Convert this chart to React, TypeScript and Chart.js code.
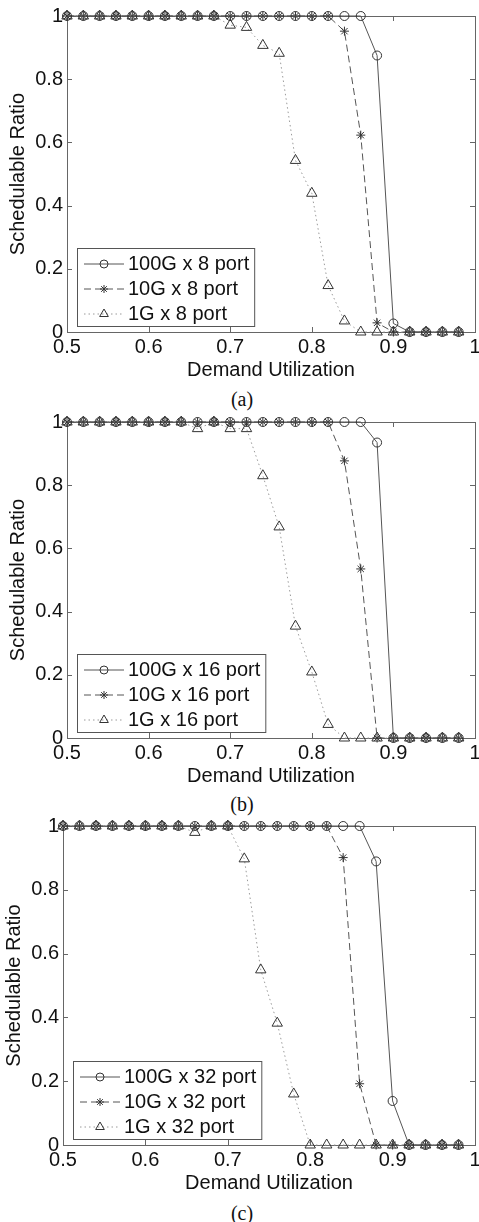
import React, { useEffect, useRef } from 'react';
import { Chart, registerables } from 'chart.js';

Chart.register(...registerables);

// ---------------- data ----------------
const utilization = [
  0.5, 0.52, 0.54, 0.56, 0.58, 0.6, 0.62, 0.64, 0.66, 0.68, 0.7, 0.72, 0.74,
  0.76, 0.78, 0.8, 0.82, 0.84, 0.86, 0.88, 0.9, 0.92, 0.94, 0.96, 0.98,
];

const xTickValues = [0.5, 0.6, 0.7, 0.8, 0.9, 1];
const yTickValues = [0, 0.2, 0.4, 0.6, 0.8, 1];

// panel (a) 8 port
const ratio100G8 = [1, 1, 1, 1, 1, 1, 1, 1, 1, 1, 1, 1, 1, 1, 1, 1, 1, 1, 1, 0.875, 0.027, 0, 0, 0, 0];
const ratio10G8 = [1, 1, 1, 1, 1, 1, 1, 1, 1, 1, 1, 1, 1, 1, 1, 1, 1, 0.952, 0.623, 0.029, 0, 0, 0, 0, 0];
const ratio1G8 = [1, 1, 1, 1, 1, 1, 1, 1, 1, 1, 0.971, 0.964, 0.907, 0.882, 0.543, 0.439, 0.147, 0.035, 0, 0, 0, 0, 0, 0, 0];

// panel (b) 16 port
const ratio100G16 = [1, 1, 1, 1, 1, 1, 1, 1, 1, 1, 1, 1, 1, 1, 1, 1, 1, 1, 1, 0.935, 0, 0, 0, 0, 0];
const ratio10G16 = [1, 1, 1, 1, 1, 1, 1, 1, 1, 1, 1, 1, 1, 1, 1, 1, 1, 0.877, 0.535, 0, 0, 0, 0, 0, 0];
const ratio1G16 = [1, 1, 1, 1, 1, 1, 1, 1, 0.979, 1, 0.979, 0.979, 0.83, 0.668, 0.354, 0.209, 0.043, 0, 0, 0, 0, 0, 0, 0, 0];

// panel (c) 32 port
const ratio100G32 = [1, 1, 1, 1, 1, 1, 1, 1, 1, 1, 1, 1, 1, 1, 1, 1, 1, 1, 1, 0.889, 0.138, 0, 0, 0, 0];
const ratio10G32 = [1, 1, 1, 1, 1, 1, 1, 1, 1, 1, 1, 1, 1, 1, 1, 1, 1, 0.901, 0.192, 0, 0, 0, 0, 0, 0];
const ratio1G32 = [1, 1, 1, 1, 1, 1, 1, 1, 0.98, 1, 1, 0.897, 0.549, 0.382, 0.16, 0, 0, 0, 0, 0, 0, 0, 0, 0, 0];

const labels8 = ['100G x 8 port', '10G x 8 port', '1G x 8 port'];
const labels16 = ['100G x 16 port', '10G x 16 port', '1G x 16 port'];
const labels32 = ['100G x 32 port', '10G x 32 port', '1G x 32 port'];

// ---------------- styles ----------------
const FONT = '"Liberation Sans", Arial, Helvetica, sans-serif';
const TEXT_COLOR = '#111';

type SeriesStyle = {
  line: string;
  dash: number[];
  marker: 'circle' | 'star' | 'triangle';
  radius: number;
  legendRadius: number;
};

const seriesStyles: SeriesStyle[] = [
  { line: '#555', dash: [], marker: 'circle', radius: 4.5, legendRadius: 4 },
  { line: '#555', dash: [7, 4], marker: 'star', radius: 4.5, legendRadius: 4 },
  { line: '#9a9a9a', dash: [1.5, 3], marker: 'triangle', radius: 6, legendRadius: 5 },
];

function drawMarker(ctx: CanvasRenderingContext2D, kind: string, x: number, y: number, r: number) {
  ctx.save();
  ctx.setLineDash([]);
  ctx.strokeStyle = '#333';
  ctx.lineWidth = 1;
  ctx.beginPath();
  if (kind === 'circle') {
    ctx.arc(x, y, r, 0, Math.PI * 2);
  } else if (kind === 'star') {
    for (let k = 0; k < 4; k++) {
      const a = (k * Math.PI) / 4;
      ctx.moveTo(x - Math.cos(a) * r, y - Math.sin(a) * r);
      ctx.lineTo(x + Math.cos(a) * r, y + Math.sin(a) * r);
    }
  } else {
    const h = r * 1.5;
    const w = r * Math.sqrt(3);
    ctx.moveTo(x, y - r);
    ctx.lineTo(x + w / 2, y - r + h);
    ctx.lineTo(x - w / 2, y - r + h);
    ctx.closePath();
  }
  ctx.stroke();
  ctx.restore();
}

const framePlugin = {
  id: 'frame',
  beforeDatasetsDraw(chart: any) {
    const { ctx, chartArea: a, scales } = chart;
    ctx.save();
    ctx.strokeStyle = '#666';
    ctx.lineWidth = 1;
    ctx.setLineDash([]);
    ctx.strokeRect(Math.round(a.left) + 0.5, Math.round(a.top) + 0.5, Math.round(a.right - a.left), Math.round(a.bottom - a.top));
    const t = 5;
    ctx.beginPath();
    xTickValues.forEach((v) => {
      const px = Math.round(scales.x.getPixelForValue(v)) + 0.5;
      ctx.moveTo(px, a.bottom);
      ctx.lineTo(px, a.bottom - t);
      ctx.moveTo(px, a.top);
      ctx.lineTo(px, a.top + t);
    });
    yTickValues.forEach((v) => {
      const py = Math.round(scales.y.getPixelForValue(v)) + 0.5;
      ctx.moveTo(a.left, py);
      ctx.lineTo(a.left + t, py);
      ctx.moveTo(a.right, py);
      ctx.lineTo(a.right - t, py);
    });
    ctx.stroke();
    ctx.restore();
  },
};

const legendPlugin = {
  id: 'boxLegend',
  afterDraw(chart: any) {
    const { ctx, chartArea: a } = chart;
    const names: string[] = chart.data.datasets.map((d: any) => d.label);
    ctx.save();
    ctx.font = `20px ${FONT}`;
    const maxW = Math.max(...names.map((n) => ctx.measureText(n).width));
    const boxW = 51 + maxW + 5;
    const boxH = 78;
    const left = Math.round(a.left + 10);
    const top = Math.round(a.bottom - 6 - boxH);
    ctx.fillStyle = '#fff';
    ctx.fillRect(left, top, boxW, boxH);
    ctx.strokeStyle = '#555';
    ctx.lineWidth = 1;
    ctx.strokeRect(left + 0.5, top + 0.5, boxW, boxH);
    names.forEach((n, i) => {
      const st = seriesStyles[i];
      const cy = top + 15.5 + i * 25;
      ctx.save();
      ctx.strokeStyle = st.line;
      ctx.lineWidth = 1;
      ctx.setLineDash(st.dash);
      ctx.beginPath();
      ctx.moveTo(left + 7, cy + 0.5);
      ctx.lineTo(left + 47, cy + 0.5);
      ctx.stroke();
      ctx.restore();
      drawMarker(ctx, st.marker, left + 27, cy + 0.5, st.legendRadius);
      ctx.fillStyle = TEXT_COLOR;
      ctx.textBaseline = 'middle';
      ctx.textAlign = 'left';
      ctx.fillText(n, left + 51, cy + 1);
    });
    ctx.restore();
  },
};

type PanelProps = {
  top: number;
  height: number;
  padTop: number;
  yWidth: number;
  yTitlePad: number;
  names: string[];
  series: number[][];
  caption: string;
  captionCenter: number;
};

function Panel(props: PanelProps) {
  const ref = useRef<HTMLCanvasElement | null>(null);
  useEffect(() => {
    if (!ref.current) return;
    const datasets = props.series.map((ys, i) => {
      const st = seriesStyles[i];
      return {
        label: props.names[i],
        data: utilization.map((x, j) => ({ x, y: ys[j] })),
        borderColor: st.line,
        borderWidth: 1,
        borderDash: st.dash,
        pointStyle: st.marker,
        pointRadius: st.radius,
        pointBorderColor: '#333',
        pointBackgroundColor: 'rgba(0,0,0,0)',
        pointBorderWidth: 1,
        tension: 0,
        clip: false as any,
        fill: false,
      };
    });
    const tickFont = { family: FONT, size: 20 };
    const chart = new Chart(ref.current, {
      type: 'line',
      data: { datasets },
      options: {
        responsive: false,
        animation: false,
        events: [],
        layout: { padding: { top: props.padTop, right: 4, bottom: 0, left: 0 }, autoPadding: false },
        plugins: { legend: { display: false }, tooltip: { enabled: false } },
        scales: {
          x: {
            type: 'linear',
            min: 0.5,
            max: 1,
            afterBuildTicks: (s: any) => {
              s.ticks = xTickValues.map((v) => ({ value: v }));
            },
            ticks: {
              callback: (v: any) => String(Number(Number(v).toFixed(1))),
              font: tickFont,
              color: TEXT_COLOR,
              padding: 3,
              maxRotation: 0,
              autoSkip: false,
            },
            grid: { display: false, drawTicks: false },
            border: { display: false },
            title: {
              display: true,
              text: 'Demand Utilization',
              font: tickFont,
              color: TEXT_COLOR,
              padding: { top: 0, bottom: 3 },
            },
            afterFit: (s: any) => {
              s.height = 53;
              s.paddingLeft = 0;
              s.paddingRight = 0;
            },
          },
          y: {
            type: 'linear',
            min: 0,
            max: 1,
            afterBuildTicks: (s: any) => {
              s.ticks = yTickValues.map((v) => ({ value: v }));
            },
            ticks: {
              callback: (v: any) => String(Number(Number(v).toFixed(1))),
              font: tickFont,
              color: TEXT_COLOR,
              padding: 4,
              autoSkip: false,
            },
            grid: { display: false, drawTicks: false },
            border: { display: false },
            title: {
              display: true,
              text: 'Schedulable Ratio',
              font: tickFont,
              color: TEXT_COLOR,
              padding: { top: props.yTitlePad, bottom: 0 },
            },
            afterFit: (s: any) => {
              s.width = props.yWidth;
              s.paddingTop = 0;
              s.paddingBottom = 0;
            },
          },
        },
      } as any,
      plugins: [framePlugin, legendPlugin],
    });
    return () => chart.destroy();
  }, []);
  return (
    <>
      <canvas
        ref={ref}
        width={479}
        height={props.height}
        style={{ position: 'absolute', left: 0, top: props.top, width: 479, height: props.height }}
      />
      <div
        style={{
          position: 'absolute',
          left: 242,
          top: props.captionCenter - 12,
          height: 24,
          lineHeight: '24px',
          transform: 'translateX(-50%)',
          fontFamily: '"Liberation Serif", "Times New Roman", serif',
          fontSize: 20,
          color: '#111',
          whiteSpace: 'nowrap',
        }}
      >
        {props.caption}
      </div>
    </>
  );
}

export default function App() {
  useEffect(() => {
    document.body.style.margin = '0';
    document.body.style.background = '#fff';
  }, []);
  return (
    <div style={{ position: 'relative', width: 479, height: 1222, background: '#fff', overflow: 'hidden' }}>
      <Panel top={0} height={385} padTop={16} yWidth={67} yTitlePad={6} names={labels8}
        series={[ratio100G8, ratio10G8, ratio1G8]} caption="(a)" captionCenter={399} />
      <Panel top={400} height={391} padTop={22} yWidth={67} yTitlePad={6} names={labels16}
        series={[ratio100G16, ratio10G16, ratio1G16]} caption="(b)" captionCenter={804} />
      <Panel top={800} height={398} padTop={26} yWidth={63} yTitlePad={2} names={labels32}
        series={[ratio100G32, ratio10G32, ratio1G32]} caption="(c)" captionCenter={1213} />
    </div>
  );
}
